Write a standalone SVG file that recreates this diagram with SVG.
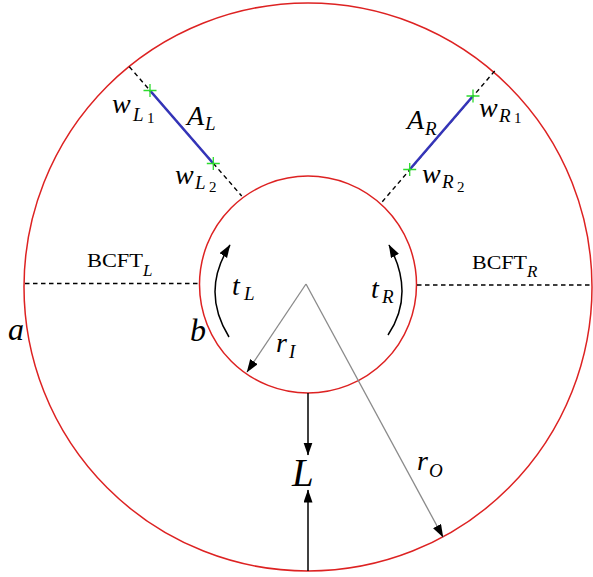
<svg xmlns="http://www.w3.org/2000/svg" width="593" height="577" viewBox="0 0 593 577">
<style>
.circ{fill:none;stroke:#dd2222;stroke-width:1.5}
.dash{fill:none;stroke:#000;stroke-width:1.4;stroke-dasharray:4.5,3.5}
.blue{fill:none;stroke:#3434b8;stroke-width:2.6}
.cross{fill:none;stroke:#2ddc2d;stroke-width:1.3}
.gray{fill:none;stroke:#8a8a8a;stroke-width:1.3}
.blk{fill:none;stroke:#000;stroke-width:1.5}
text{font-family:"Liberation Serif","DejaVu Serif",serif;fill:#000}
.m{font-style:italic;font-size:28px}
.s{font-style:italic;font-size:19px}
.ss{font-style:normal;font-size:15px}
.rm{font-style:normal;font-size:19px}
.big{font-style:italic;font-size:32px}
</style>
<defs>
<marker id="ah" markerUnits="userSpaceOnUse" markerWidth="14" markerHeight="10" refX="12.5" refY="4.5" orient="auto">
<path d="M0,0 L13,4.5 L0,9 Z" fill="#000"/>
</marker>
</defs>
<g id="outer-circle"><circle class="circ" cx="308" cy="287" r="284"/></g>
<g id="inner-circle"><circle class="circ" cx="308" cy="284.5" r="108.5"/></g>
<g id="connectors">
<line class="dash" x1="25" y1="283.5" x2="199.5" y2="283.5"/>
<line class="dash" x1="417" y1="285" x2="591" y2="285"/>
<line class="dash" x1="129.3" y1="66.7" x2="241.7" y2="196"/>
<line class="dash" x1="494.7" y1="71" x2="382.3" y2="201.7"/>
<line class="blue" x1="150" y1="90.5" x2="213.3" y2="163.5"/>
<line class="blue" x1="473" y1="96" x2="409.7" y2="169.5"/>
<line class="gray" x1="306" y1="284" x2="247" y2="372" marker-end="url(#ah)"/>
<line class="gray" x1="306" y1="284" x2="443" y2="537" marker-end="url(#ah)"/>
<line class="blk" x1="308" y1="393" x2="308" y2="455" marker-end="url(#ah)"/>
<line class="blk" x1="308" y1="571" x2="308" y2="490" marker-end="url(#ah)"/>
<path class="blk" d="M229,337 Q200.5,291 230,245" marker-end="url(#ah)"/>
<path class="blk" d="M388,335 Q415.5,294 389,245" marker-end="url(#ah)"/>
</g>
<g id="crosses">
<path class="cross" d="M143.5,90.5 h13 M150,84 v13"/>
<path class="cross" d="M206.8,163.5 h13 M213.3,157 v13"/>
<path class="cross" d="M466.5,96 h13 M473,89.5 v13"/>
<path class="cross" d="M403.2,169.5 h13 M409.7,163 v13"/>
</g>
<g id="label-wL1"><text class="m" x="112" y="113">w</text><text class="s" x="133" y="121">L</text><text class="ss" x="147" y="123">1</text></g>
<g id="label-AL"><text class="m" x="187" y="125">A</text><text class="s" x="205" y="130">L</text></g>
<g id="label-wL2"><text class="m" x="175" y="184">w</text><text class="s" x="195" y="189">L</text><text class="ss" x="209" y="192">2</text></g>
<g id="label-AR"><text class="m" x="407" y="129">A</text><text class="s" x="425" y="135">R</text></g>
<g id="label-wR1"><text class="m" x="479" y="117">w</text><text class="s" x="499" y="122">R</text><text class="ss" x="514" y="123">1</text></g>
<g id="label-wR2"><text class="m" x="422" y="183">w</text><text class="s" x="442" y="188">R</text><text class="ss" x="457" y="191.5">2</text></g>
<g id="label-BCFTL"><text class="rm" x="87" y="267" textLength="56" lengthAdjust="spacingAndGlyphs">BCFT</text><text class="s" x="143" y="275.5" style="font-size:17px">L</text></g>
<g id="label-BCFTR"><text class="rm" x="472" y="268.5" textLength="55" lengthAdjust="spacingAndGlyphs">BCFT</text><text class="s" x="527" y="277" style="font-size:17px">R</text></g>
<g id="label-tL"><text class="m" x="232" y="295">t</text><text class="s" x="244" y="300">L</text></g>
<g id="label-tR"><text class="m" x="371" y="298">t</text><text class="s" x="382" y="303">R</text></g>
<g id="label-rI"><text class="m" x="276" y="351.5">r</text><text class="s" x="289" y="358">I</text></g>
<g id="label-rO"><text class="m" x="417" y="470">r</text><text class="s" x="429" y="476.5">O</text></g>
<g id="label-L"><text class="m" x="292" y="486" style="font-size:39px">L</text></g>
<g id="label-a"><text class="big" x="8" y="339.5">a</text></g>
<g id="label-b"><text class="big" x="190" y="341">b</text></g>
</svg>
